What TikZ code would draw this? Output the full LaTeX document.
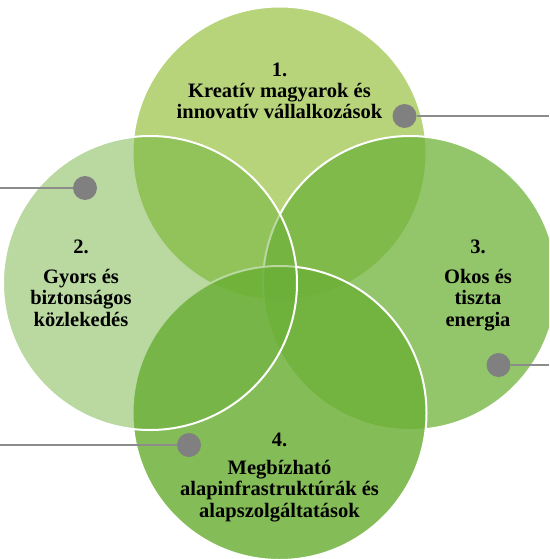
\documentclass[tikz,border=0pt]{standalone}
\usepackage{fontspec}
\setmainfont{Liberation Serif}
\definecolor{cT}{RGB}{135,183,35}
\definecolor{cR}{RGB}{111,178,58}
\definecolor{cB}{RGB}{109,176,56}
\definecolor{cL}{RGB}{106,174,55}
\definecolor{dotgray}{RGB}{128,128,128}
\definecolor{linegray}{RGB}{140,140,140}
\tikzset{
  venn/.style={draw=white, line width=2pt},
  lbl/.style={font=\fontsize{20.5}{21.5}\selectfont\bfseries, align=center, inner sep=0pt, text=black},
  dot/.style={circle, fill=dotgray, minimum size=24pt, inner sep=0pt},
  leader/.style={draw=linegray, line width=1.3pt}
}
\begin{document}
\begin{tikzpicture}[x=1pt,y=-1pt]
\useasboundingbox (0,0) rectangle (549,559);
\begin{scope}
\clip (0,0) rectangle (549,559);
\path[venn, fill=cT, fill opacity=0.6] (279.5,153.5) circle[radius=147pt];
\path[venn, fill=cR, fill opacity=0.75] (410,283) circle[radius=147pt];
\path[venn, fill=cB, fill opacity=0.84] (279.5,413) circle[radius=147pt];
\path[venn, fill=cL, fill opacity=0.47] (150,283) circle[radius=147pt];
\end{scope}
% texts (base anchor = baseline of the last line)
\node[lbl, anchor=base] (n1) at (279.5,77) {1.};
\node[lbl, anchor=base] (t1) at (279.5,119) {Kreatív magyarok és\\innovatív vállalkozások};
\node[lbl, anchor=base] (n2) at (81,253) {2.};
\node[lbl, anchor=base] (t2) at (81,326) {Gyors és\\biztonságos\\közlekedés};
\node[lbl, anchor=base] (n3) at (478,253) {3.};
\node[lbl, anchor=base] (t3) at (478,326) {Okos és\\tiszta\\energia};
\node[lbl, anchor=base] (n4) at (279.5,446) {4.};
\node[lbl, anchor=base] (t4) at (279.5,517) {Megbízható\\alapinfrastruktúrák és\\alapszolgáltatások};
% leaders
\coordinate (e1) at (549,116);
\coordinate (e2) at (0,188);
\coordinate (e3) at (549,365);
\coordinate (e4) at (0,445);
\node[dot] (d1) at (404.5,116) {};
\node[dot] (d2) at (85,188) {};
\node[dot] (d3) at (498.5,365) {};
\node[dot] (d4) at (189,445) {};
\draw[leader] (d1) -- (e1);
\draw[leader] (d2) -- (e2);
\draw[leader] (d3) -- (e3);
\draw[leader] (d4) -- (e4);
\end{tikzpicture}
\end{document}
